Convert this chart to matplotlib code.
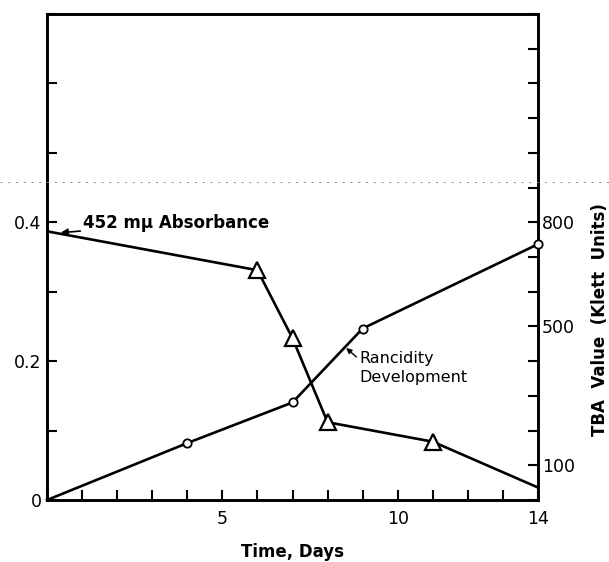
import matplotlib.pyplot as plt
from matplotlib.lines import Line2D

# Data
days_abs = [0, 6, 7, 8, 11, 14]
absorbance = [0.387, 0.331, 0.233, 0.112, 0.084, 0.018]

days_tba = [0, 4, 7, 9, 14]
tba = [0, 164, 281, 494, 737]

x_ticks = list(range(0, 15))
x_labels = {5: "5", 10: "10", 14: "14"}
left_ticks = [0, 0.1, 0.2, 0.3, 0.4, 0.5, 0.6, 0.7]
left_labels = {0: "0", 0.2: "0.2", 0.4: "0.4"}
right_ticks = list(range(0, 1401, 100))
right_labels = {100: "100", 500: "500", 800: "800"}

plt.rcParams['font.family'] = ['DejaVu Sans']

fig = plt.figure(figsize=(6.09, 5.62), dpi=100)
ax = fig.add_axes([0.0772, 0.1103, 0.8062, 0.8648])
ax2 = ax.twinx()

# Absorbance curve (triangles)
ax.plot(days_abs, absorbance, color='black', lw=1.9, marker='^', ms=11,
        mfc='white', mec='black', mew=1.6, markevery=[1, 2, 3, 4], zorder=3)

# TBA curve (circles) on right axis
ax2.plot(days_tba, tba, color='black', lw=1.9, marker='o', ms=6,
         mfc='white', mec='black', mew=1.3, markevery=[1, 2, 3, 4],
         clip_on=False, zorder=3)

ax.set_xlim(0, 14)
ax.set_ylim(0, 0.7)
ax2.set_ylim(0, 1400)

ax.set_xticks(x_ticks)
ax.set_xticklabels([x_labels.get(t, "") for t in x_ticks])
ax.set_yticks(left_ticks)
ax.set_yticklabels([left_labels.get(round(t, 1), "") for t in left_ticks])
ax2.set_yticks(right_ticks)
ax2.set_yticklabels([right_labels.get(t, "") for t in right_ticks])

ax.tick_params(axis='both', direction='in', length=7, width=1.5,
               labelsize=12.5, pad=4)
ax.tick_params(axis='x', pad=7)
ax2.tick_params(axis='y', direction='in', length=7, width=1.5,
                labelsize=12.5, pad=3)

for a in (ax, ax2):
    for s in a.spines.values():
        s.set_linewidth(1.9)

ax.set_xlabel("Time, Days", fontsize=12, fontweight='bold', labelpad=11)
fig.text(0.985, 1 - 320 / 562, "TBA  Value  (Klett  Units)", rotation=90,
         ha='center', va='center', fontsize=12, fontweight='bold')

# Curve labels
ax.annotate("452 mμ Absorbance", xy=(0.39, 0.385), xytext=(1.03, 0.399),
            fontsize=12, fontweight='bold', va='center', ha='left',
            arrowprops=dict(arrowstyle='-|>', color='black', lw=1.2,
                            mutation_scale=10, shrinkA=0, shrinkB=0))
ax.annotate("Rancidity\nDevelopment", xy=(8.53, 0.219), xytext=(8.9, 0.19),
            fontsize=11.5, va='center', ha='left', linespacing=1.4,
            arrowprops=dict(arrowstyle='-|>', color='black', lw=1.0,
                            mutation_scale=8, shrinkA=14, shrinkB=0,
                            relpos=(0, 0.75)))

# faint scan line across the page
fig.add_artist(Line2D([0, 1], [1 - 182 / 562, 1 - 182 / 562],
                      transform=fig.transFigure, color='#888888',
                      lw=0.7, ls=(0, (2, 6))))

plt.savefig("out.png", dpi=100)
